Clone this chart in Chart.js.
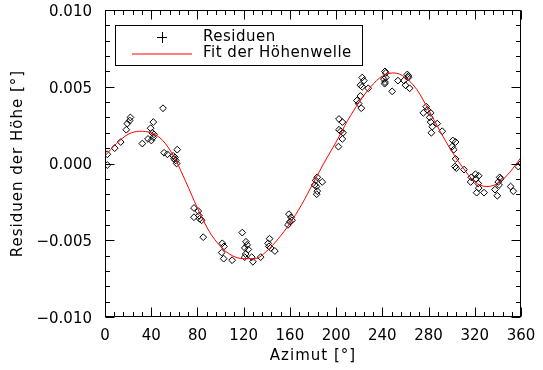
<!DOCTYPE html>
<html>
<head>
<meta charset="utf-8">
<script src="https://cdn.jsdelivr.net/npm/chart.js@4.4.1/dist/chart.umd.min.js"></script>
<style>
  html, body { margin: 0; padding: 0; background: #fff; }
</style>
</head>
<body>
<canvas id="residChart" width="543" height="370"></canvas>
<script>
// residuals of the elevation, one entry per measurement
const residAz = [
  2, 2, 8.4, 13.6, 18.4, 19.3, 21.4, 22,
  32.3, 37.2, 39.5, 41.8, 40.9, 41.8, 40.1, 42.4,
  50.2, 51.1, 54, 59, 62.5, 59.7, 61.2, 62, 60.5,
  77, 80.7, 81.3, 77, 81.9, 83.6, 85,
  101.5, 103, 101, 102.7, 110,
  118.8, 122, 123, 121, 124, 121.7, 120.9, 127, 128, 134.7,
  142.4, 141.2, 141.8, 143.3, 147,
  159.2, 161, 161.8, 160, 158.3,
  183.7, 182.3, 188, 181.5, 183, 183.7, 183.2,
  202.5, 205.4, 202.5, 204, 206, 205.4, 202,
  222.6, 224, 221, 222.6, 227.8, 221, 218, 219.5, 221.8,
  243, 243, 242.3, 242.3, 241.4, 242, 248.5,
  253.5, 258.7, 261.6, 262.5, 260, 263.6, 262.5,
  278, 279, 275.5, 281.8, 281, 281.8, 283.2, 282.4, 287.5, 291.8,
  301, 303.4, 300.4, 301.8, 303.4, 302.9, 304,
  310.7, 317, 320.5, 323.4, 321, 316.4, 323, 321.6, 328, 323.4,
  337.5, 339.5, 341, 341.6, 342.4, 340.3,
  351, 353.3, 357.7, 360
];
const residVal = [
  -0.0001, 0.0006, 0.0010, 0.0014, 0.0022, 0.0026, 0.0028, 0.0030,
  0.0013, 0.0016, 0.0023, 0.0027, 0.0020, 0.0017, 0.0015, 0.0019,
  0.0036, 0.0007, 0.0006, 0.0005, 0.0009, 0.0003, 0.0002, 0.0000, 0.0004,
  -0.0029, -0.0031, -0.0034, -0.0035, -0.0036, -0.0037, -0.0048,
  -0.0052, -0.0054, -0.0058, -0.0062, -0.0063,
  -0.0045, -0.0051, -0.0053, -0.0055, -0.0056, -0.0059, -0.0061, -0.0061, -0.0064, -0.0061,
  -0.0049, -0.0052, -0.0054, -0.0055, -0.0057,
  -0.0033, -0.0035, -0.0037, -0.0038, -0.0040,
  -0.0009, -0.0011, -0.0012, -0.0014, -0.0015, -0.0018, -0.0020,
  0.0029, 0.0027, 0.0022, 0.0021, 0.0020, 0.0016, 0.0011,
  0.0056, 0.0054, 0.0051, 0.0050, 0.0049, 0.0044, 0.0041, 0.0039, 0.0036,
  0.0059, 0.0056, 0.0053, 0.0060, 0.0055, 0.0052, 0.0047,
  0.0054, 0.0054, 0.0058, 0.0057, 0.0051, 0.0049, 0.0056,
  0.0037, 0.0035, 0.0033, 0.0033, 0.0030, 0.0027, 0.0024, 0.0020, 0.0026, 0.0021,
  0.0015, 0.0014, 0.0011, 0.0009, 0.0003, -0.0002, -0.0003,
  -0.0004, -0.0009, -0.0007, -0.0008, -0.0010, -0.0012, -0.0013, -0.0019, -0.0019, -0.0016,
  -0.0017, -0.0021, -0.0014, -0.0009, -0.0010, -0.0012,
  -0.0015, -0.0018, -0.0002, 0.0000
];

// fitted elevation wave, sampled every 10 degrees
const fitAz = [0, 10, 20, 30, 40, 50, 60, 70, 80, 90, 100, 110, 120, 130, 140, 150, 160, 170, 180,
  190, 200, 210, 220, 230, 240, 250, 260, 270, 280, 290, 300, 310, 320, 330, 340, 350, 360];
const fitVal = [0.0005, 0.0013, 0.0019, 0.0021, 0.0020, 0.0015, 0.0004, -0.0012, -0.0029, -0.0044,
  -0.0054, -0.0060, -0.0062, -0.0062, -0.0057, -0.0049, -0.0039, -0.0027, -0.0013,
  0.0001, 0.0014, 0.0028, 0.0040, 0.0050, 0.0057, 0.0059, 0.0056, 0.0048, 0.0035,
  0.0021, 0.0008, -0.0003, -0.0012, -0.0015, -0.0013, -0.0006, 0.0004];

const xTicks = [0, 40, 80, 120, 160, 200, 240, 280, 320, 360];
const yTicks = [-0.010, -0.005, 0.000, 0.005, 0.010];
const xMinorStep = 8;
const yMinorStep = 0.001;

const FIT_COLOR = '#ff0000';
const FONT = '"DejaVu Sans", sans-serif';
const tickFont = { family: FONT, size: 15 };

function fmtY(v) {
  const s = Math.abs(v).toFixed(3);
  return v < -1e-9 ? '\u2212' + s : s;
}

// the scales should not push the plot box around
function noScalePadding(s) {
  s.paddingTop = 0; s.paddingBottom = 0;
  s.paddingLeft = 0; s.paddingRight = 0;
}

// IDL-like box: closed frame, inward major/minor ticks, titles and legend
const idlFrame = {
  id: 'idlFrame',
  afterDraw(chart) {
    const { ctx, chartArea: a } = chart;
    const x = chart.scales.x, y = chart.scales.y;
    const L = Math.round(a.left) + 0.5, R = Math.round(a.right) - 0.5;
    const T = Math.round(a.top) + 0.5, B = Math.round(a.bottom) - 0.5;
    ctx.save();
    ctx.strokeStyle = '#000';
    ctx.lineWidth = 1;
    ctx.strokeRect(L, T, R - L, B - T);

    ctx.beginPath();
    for (let v = x.min; v <= x.max + 1e-9; v += xMinorStep) {
      const px = Math.round(x.getPixelForValue(v)) + 0.5;
      const len = xTicks.includes(Math.round(v)) ? 9 : 4.5;
      ctx.moveTo(px, B); ctx.lineTo(px, B - len);
      ctx.moveTo(px, T); ctx.lineTo(px, T + len);
    }
    for (let i = 0; i <= Math.round((y.max - y.min) / yMinorStep); i++) {
      const v = y.min + i * yMinorStep;
      const py = Math.round(y.getPixelForValue(v)) + 0.5;
      const len = i % 5 === 0 ? 9 : 4.5;
      ctx.moveTo(L, py); ctx.lineTo(L + len, py);
      ctx.moveTo(R, py); ctx.lineTo(R - len, py);
    }
    ctx.stroke();

    // axis titles
    ctx.fillStyle = '#000';
    ctx.font = '15px ' + FONT;
    ctx.letterSpacing = '1px';
    ctx.textAlign = 'center';
    ctx.textBaseline = 'middle';
    ctx.fillText('Azimut [°]', (a.left + a.right) / 2, 356);
    ctx.save();
    ctx.translate(18, (a.top + a.bottom) / 2);
    ctx.rotate(-Math.PI / 2);
    ctx.fillText('Residuen der Höhe [°]', 0, 0);
    ctx.restore();

    // legend box: plus sign for the residuals, line sample for the fit
    const bx = a.left + 10, by = a.top + 15;
    ctx.strokeRect(bx + 0.5, by + 0.5, 247, 40);
    ctx.beginPath();
    ctx.moveTo(bx + 42, by + 12.5); ctx.lineTo(bx + 52, by + 12.5);
    ctx.moveTo(bx + 47.5, by + 7); ctx.lineTo(bx + 47.5, by + 18);
    ctx.stroke();

    ctx.beginPath();
    ctx.strokeStyle = FIT_COLOR;
    ctx.lineWidth = 1.2;
    ctx.moveTo(bx + 17, by + 29);
    ctx.lineTo(bx + 77, by + 29);
    ctx.stroke();

    ctx.letterSpacing = '0.5px';
    ctx.textAlign = 'left';
    ctx.fillText('Residuen', bx + 88, by + 12.5);
    ctx.fillText('Fit der Höhenwelle', bx + 88, by + 28.5);
    ctx.restore();
  }
};

const ctx = document.getElementById('residChart').getContext('2d');
new Chart(ctx, {
  type: 'scatter',
  data: {
    datasets: [
      {
        label: 'Fit der Höhenwelle',
        data: fitAz.map((az, i) => ({ x: az, y: fitVal[i] })),
        showLine: true,
        borderColor: FIT_COLOR,
        borderWidth: 1,
        pointRadius: 0,
        cubicInterpolationMode: 'monotone',
        order: 0
      },
      {
        label: 'Residuen',
        data: residAz.map((az, i) => ({ x: az, y: residVal[i] })),
        pointStyle: 'rectRot',
        pointRadius: 3.4,
        borderColor: '#000',
        borderWidth: 1,
        backgroundColor: 'rgba(255,255,255,0)',
        order: 1
      }
    ]
  },
  options: {
    responsive: false,
    animation: false,
    devicePixelRatio: 1,
    layout: { padding: { top: 10, right: 22, left: 0, bottom: 0 } },
    plugins: { legend: { display: false }, tooltip: { enabled: false } },
    scales: {
      x: {
        type: 'linear',
        min: 0,
        max: 360,
        afterBuildTicks: s => { s.ticks = xTicks.map(v => ({ value: v })); },
        afterFit: s => { s.height = 53; noScalePadding(s); },
        grid: { display: false, drawTicks: false },
        border: { display: false },
        ticks: { font: tickFont, color: '#000', padding: 10, maxRotation: 0, autoSkip: false }
      },
      y: {
        type: 'linear',
        min: -0.01,
        max: 0.01,
        afterBuildTicks: s => { s.ticks = yTicks.map(v => ({ value: v })); },
        afterFit: s => { s.width = 105; noScalePadding(s); },
        grid: { display: false, drawTicks: false },
        border: { display: false },
        ticks: { font: tickFont, color: '#000', padding: 13, labelOffset: 2, callback: v => fmtY(v) }
      }
    }
  },
  plugins: [idlFrame]
});
</script>
</body>
</html>
